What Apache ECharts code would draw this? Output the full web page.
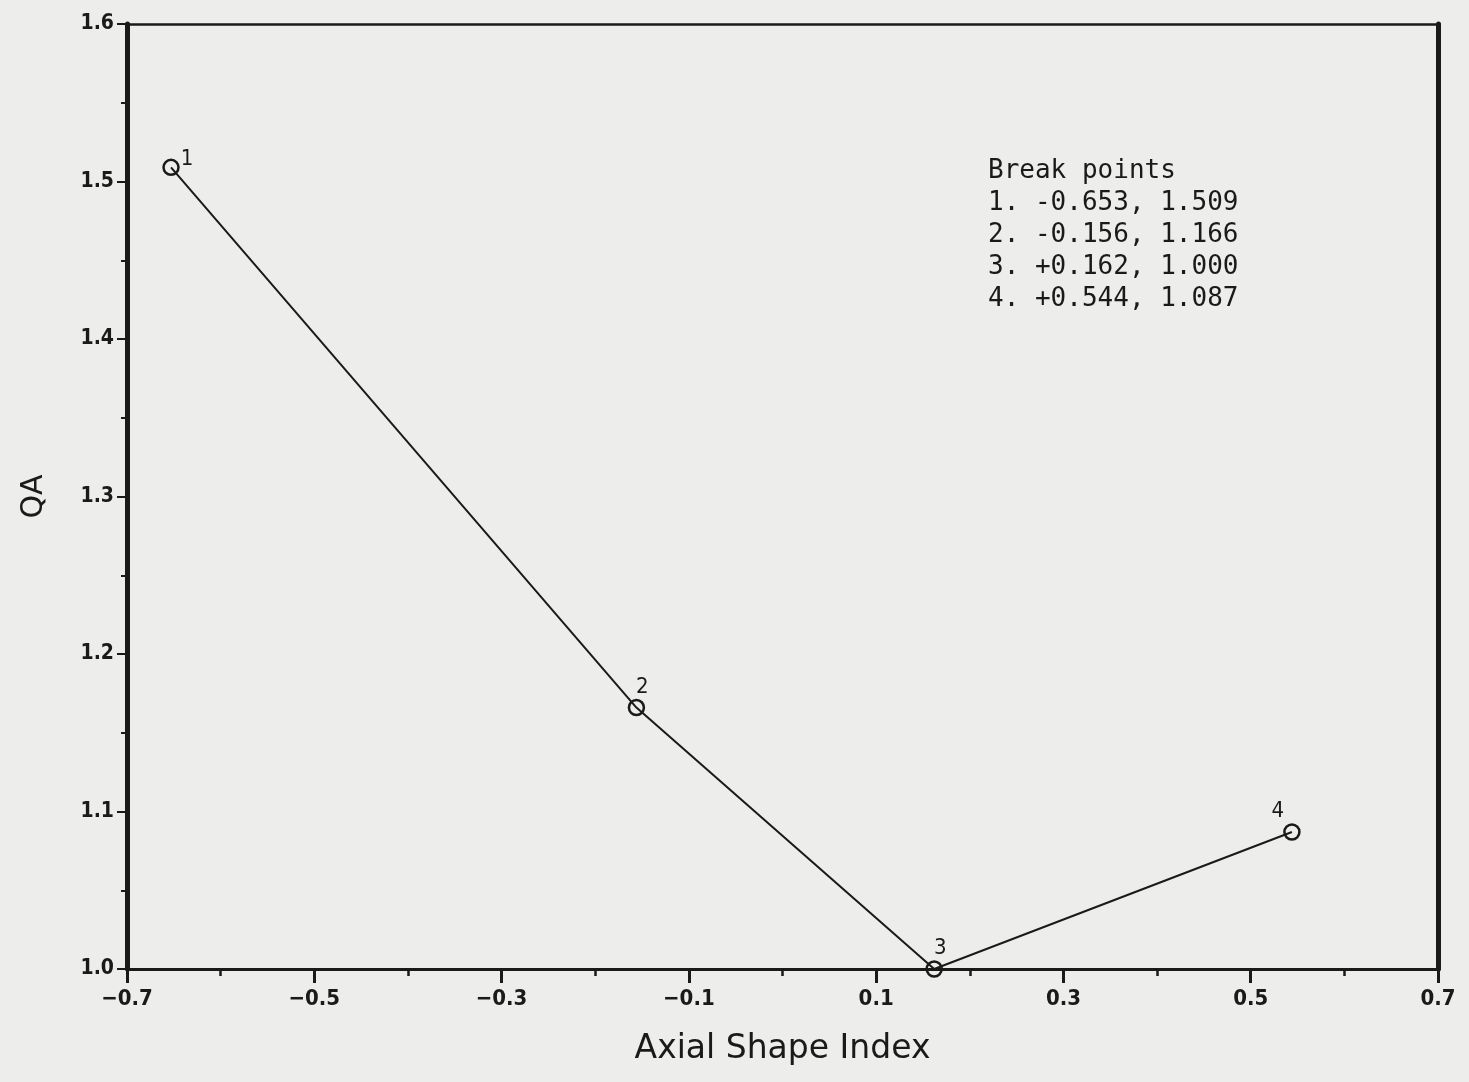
<!DOCTYPE html>
<html>
<head>
<meta charset="utf-8">
<script src="https://cdn.jsdelivr.net/npm/echarts@6/dist/echarts.min.js"></script>
<style>
  html, body { margin: 0; padding: 0; background: #ededeb; }
  #chart { width: 1469px; height: 1082px; }
</style>
</head>
<body>
<div id="chart"></div>
<script>
// break points (Axial Shape Index, QA)
const pointIds = ['1', '2', '3', '4'];
const asiVals = [-0.653, -0.156, 0.162, 0.544];
const qaVals = [1.509, 1.166, 1.000, 1.087];
const noteLines = ['Break points', '1. -0.653, 1.509', '2. -0.156, 1.166', '3. +0.162, 1.000', '4. +0.544, 1.087'];

const ink = '#1a1a1a';
const chart = echarts.init(document.getElementById('chart'));

const pts = asiVals.map((x, i) => ({
  value: [x, qaVals[i]],
  name: pointIds[i],
  // little offsets so the numbers sit where the plotter put them
  label: i === 0 ? { position: 'right', offset: [-4, -8] }
       : i === 3 ? { position: 'top', offset: [-14, 4] }
       : { position: 'top', offset: [6, 4] },
}));

const option = {
  backgroundColor: '#ededeb',
  animation: false,
  grid: { left: 127, right: 31, top: 24, bottom: 113, show: false },
  xAxis: [
    {
      type: 'value',
      min: -0.7,
      max: 0.7,
      interval: 0.2,
      name: 'Axial Shape Index',
      nameLocation: 'middle',
      nameGap: 64,
      nameTextStyle: { color: ink, fontSize: 33, fontFamily: 'DejaVu Sans', fontWeight: 'normal' },
      axisLine: { onZero: false, lineStyle: { color: ink, width: 3 } },
      axisTick: { length: 14, lineStyle: { color: ink, width: 3 } },
      minorTick: { show: true, splitNumber: 2, length: 7, lineStyle: { color: ink, width: 2.5 } },
      axisLabel: {
        margin: 19,
        color: ink,
        fontSize: 22,
        fontWeight: 'bold',
        fontFamily: 'DejaVu Sans Condensed',
        formatter: v => (v < 0 ? '\u2212' : '') + Math.abs(v).toFixed(1),
      },
      splitLine: { show: false },
    },
    {
      type: 'value',
      position: 'top',
      min: -0.7,
      max: 0.7,
      axisLine: { onZero: false, lineStyle: { color: ink, width: 2.5 } },
      axisTick: { show: false },
      axisLabel: { show: false },
      splitLine: { show: false },
    },
  ],
  yAxis: [
    {
      type: 'value',
      min: 1.0,
      max: 1.6,
      interval: 0.1,
      name: 'QA',
      nameLocation: 'middle',
      nameGap: 78,
      nameTextStyle: { color: ink, fontSize: 30, fontFamily: 'DejaVu Sans' },
      axisLine: { show: true, onZero: false, lineStyle: { color: ink, width: 5 } },
      axisTick: { length: 10, lineStyle: { color: ink, width: 2 } },
      minorTick: { show: true, splitNumber: 2, length: 6, lineStyle: { color: ink, width: 2 } },
      axisLabel: {
        margin: 13,
        color: ink,
        fontSize: 21,
        fontWeight: 'bold',
        fontFamily: 'DejaVu Sans Condensed',
        formatter: v => v.toFixed(1),
      },
      splitLine: { show: false },
    },
    {
      type: 'value',
      position: 'right',
      min: 1.0,
      max: 1.6,
      axisLine: { show: true, onZero: false, lineStyle: { color: ink, width: 5 } },
      axisTick: { show: false },
      axisLabel: { show: false },
      splitLine: { show: false },
    },
  ],
  series: [
    {
      type: 'line',
      data: pts,
      symbol: 'circle',
      symbolSize: 15,
      showSymbol: true,
      lineStyle: { color: ink, width: 2 },
      itemStyle: { color: 'transparent', borderColor: ink, borderWidth: 2.5 },
      label: {
        show: true,
        formatter: p => p.name,
        color: ink,
        fontSize: 22,
        fontFamily: 'DejaVu Sans Condensed',
      },
      z: 5,
    },
  ],
  graphic: [
    {
      type: 'text',
      left: 988,
      top: 155,
      style: {
        text: noteLines.join('\n'),
        fill: ink,
        font: '26px "DejaVu Sans Mono"',
        lineHeight: 32,
      },
    },
  ],
};

chart.setOption(option);
</script>
</body>
</html>
